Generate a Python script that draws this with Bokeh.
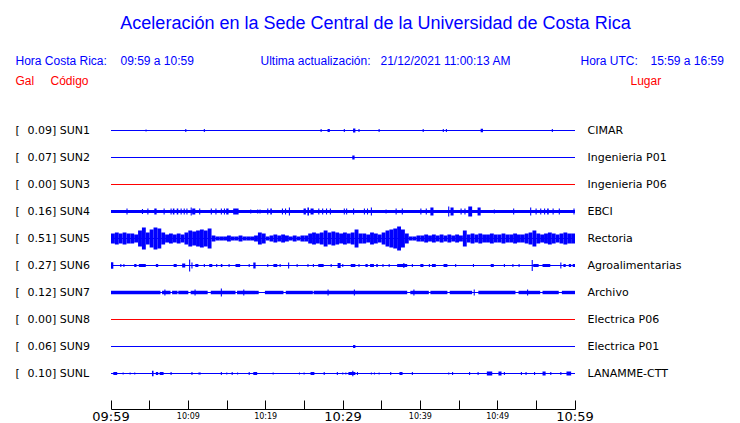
from bokeh.plotting import figure
from bokeh.models import Range1d, LinearAxis, FixedTicker, Label, LabelSet, ColumnDataSource
from bokeh.core.properties import value
from bokeh.embed import file_html
from bokeh.resources import INLINE

# ---------------- data ----------------
stations = ["SUN1", "SUN2", "SUN3", "SUN4", "SUN5", "SUN6", "SUN7", "SUN8", "SUN9", "SUNL"]
places = ["CIMAR", "Ingenieria P01", "Ingenieria P06", "EBCI", "Rectoria",
          "Agroalimentarias", "Archivo", "Electrica P06", "Electrica P01", "LANAMME-CTT"]
peak_gal = ["0.09", "0.07", "0.00", "0.16", "0.51", "0.27", "0.12", "0.00", "0.06", "0.10"]
online = [True, True, False, True, True, True, True, False, True, True]

tick_minutes = [0, 5, 10, 15, 20, 25, 30, 35, 40, 45, 50, 55, 60]
minor_time_labels = {10: "10:09", 20: "10:19", 40: "10:39", 50: "10:49"}
major_time_labels = {0: "09:59", 30: "10:29", 60: "10:59"}

# envelope bursts: (start minute, end minute, half amplitude)
sun1 = [(4.46, 4.6, 1), (9.6, 9.7, 1.5), (12.0, 12.1, 1.5), (27.1, 27.2, 1.5), (28.0, 28.3, 1.5),
        (30.1, 30.2, 1.5), (31.3, 31.6, 2), (32.0, 32.1, 1.5), (34.6, 34.7, 1.5), (40.3, 40.4, 1.5),
        (42.9, 43.0, 1.5), (43.3, 43.4, 1.5), (47.8, 48.1, 1.7), (57.0, 57.1, 1.5)]
sun2 = [(31.2, 31.5, 2)]
sun3 = []
sun4 = [(0, 60, 1.5),
        (2.0, 2.1, 3), (4.0, 4.1, 2.5), (4.7, 4.8, 3), (5.6, 5.9, 3), (6.8, 6.9, 3), (7.7, 7.8, 3),
        (8.0, 8.2, 3), (8.5, 8.7, 3), (9.0, 9.1, 3), (9.4, 9.5, 3), (9.75, 9.85, 3), (10.3, 10.4, 4),
        (10.5, 10.9, 3), (11.4, 11.5, 3), (12.9, 13.0, 3), (13.5, 13.6, 3), (14.2, 14.3, 3),
        (14.6, 14.7, 3), (14.9, 15.2, 3), (15.8, 16.5, 3), (18.0, 18.1, 2), (18.9, 19.0, 2),
        (19.2, 19.3, 2), (20.2, 20.3, 3), (20.6, 20.8, 3), (22.1, 22.2, 3), (22.5, 22.6, 3),
        (23.0, 23.1, 4), (24.9, 25.2, 3), (25.4, 25.6, 4), (25.8, 26.2, 3), (26.8, 26.9, 3),
        (27.3, 27.4, 3), (27.8, 27.9, 3), (28.3, 28.4, 3), (30.1, 30.2, 3), (30.4, 30.5, 3),
        (31.3, 31.4, 3), (32.7, 32.8, 3), (33.1, 33.2, 3), (33.6, 33.7, 4), (35.5, 35.6, 2),
        (36.8, 36.9, 3), (37.6, 37.7, 3), (40.0, 40.1, 3), (40.7, 40.8, 3), (41.3, 41.7, 4),
        (43.6, 43.7, 5), (43.9, 44.3, 4), (45.2, 45.3, 3), (45.7, 45.8, 3), (46.2, 46.7, 5),
        (47.4, 47.8, 4), (49.5, 49.6, 2), (52.0, 52.1, 3), (54.2, 54.3, 4), (54.9, 55.0, 3),
        (55.5, 55.6, 3), (56.0, 56.1, 3), (56.4, 56.6, 3), (57.1, 57.2, 3), (57.9, 58.0, 3),
        (59.8, 59.9, 3)]
# SUN5: half amplitude in 0.5-minute bins, 09:59 -> 10:59
sun5_env = [5, 6, 5, 6, 5, 5, 4, 8, 11, 6, 9, 11, 10, 6, 4, 5, 4, 5, 4, 6,
            8, 7, 8, 9, 8, 10, 3, 2, 2, 2, 3, 2, 2, 3, 2, 2, 2, 3, 6, 5,
            2, 3, 4, 3, 4, 3, 2, 3, 2, 3, 3, 5, 6, 5, 6, 8, 6, 7, 6, 5,
            6, 5, 6, 9, 5, 5, 4, 6, 5, 4, 6, 8, 9, 10, 12, 9, 5, 2, 2, 3,
            3, 4, 3, 4, 3, 4, 3, 4, 3, 4, 3, 8, 4, 5, 4, 5, 4, 4, 5, 4,
            4, 5, 4, 4, 5, 4, 4, 5, 6, 8, 5, 4, 5, 6, 5, 4, 5, 6, 5, 5]
sun6 = [(0.0, 0.3, 3.3), (1.2, 1.3, 1.5), (1.6, 1.7, 1.5), (3.0, 3.3, 1.5), (3.6, 4.5, 1.5),
        (5.8, 6.1, 1.5), (8.1, 8.5, 1.5), (9.2, 9.6, 2), (10.1, 10.2, 6), (10.4, 10.5, 3),
        (10.9, 11.3, 1.5), (12.0, 12.1, 1.5), (12.7, 13.1, 1.5), (13.6, 13.7, 1.5), (14.2, 14.4, 1.5),
        (15.2, 15.3, 1.5), (16.1, 16.7, 1.5), (17.8, 17.9, 1.5), (18.4, 18.7, 3), (20.2, 20.3, 1.5),
        (21.0, 21.5, 1.5), (21.8, 21.9, 1.5), (22.9, 23.0, 3), (24.0, 24.1, 1.5), (25.4, 25.5, 1.5),
        (26.1, 26.2, 1.5), (26.8, 27.5, 1.5), (28.4, 28.5, 1.5), (29.3, 29.7, 2.5), (29.9, 30.0, 1.5),
        (31.0, 31.6, 1.5), (32.0, 32.1, 1.5), (32.9, 33.2, 1.5), (33.5, 34.0, 1.5), (34.3, 34.5, 1.5),
        (35.1, 35.2, 1.5), (35.9, 36.0, 1.5), (37.0, 38.3, 1.5), (37.8, 37.9, 2.5), (38.9, 39.0, 1.5),
        (40.0, 40.4, 1.5), (41.1, 41.2, 1.5), (41.5, 42.0, 1.5), (43.0, 43.5, 1.5), (44.5, 44.6, 1.5),
        (46.8, 46.9, 1.5), (49.1, 49.5, 1.5), (50.8, 50.9, 1.5), (51.9, 52.0, 1.5), (52.7, 52.8, 1.5),
        (54.4, 54.5, 5.5), (54.6, 55.3, 1.5), (55.8, 56.8, 1.5), (58.1, 58.2, 3), (58.5, 58.8, 1.5),
        (59.2, 59.5, 1.5), (59.7, 60.0, 1.5)]
sun7 = [(0, 6.4, 1.7), (6.6, 7.7, 1.7), (7.9, 8.6, 1.7), (8.7, 10.0, 1.7), (10.3, 12.5, 1.7),
        (12.9, 16.1, 1.7), (16.3, 19.1, 1.7), (19.9, 22.3, 1.7), (22.6, 26.1, 1.7), (26.2, 38.3, 1.7),
        (38.7, 41.1, 1.7), (41.3, 43.5, 1.7), (43.8, 46.7, 1.7), (47.5, 52.3, 1.7), (52.7, 55.5, 1.7),
        (55.8, 57.9, 1.7), (58.3, 60, 1.7),
        (6.9, 7.0, 3), (10.8, 10.9, 3), (14.2, 14.3, 4), (17.1, 17.2, 3), (28.0, 28.1, 3),
        (31.4, 31.5, 3), (39.1, 39.2, 3), (46.9, 47.0, 3), (53.8, 53.9, 3)]
sun8 = []
sun9 = [(31.3, 31.6, 1.5)]
sunl = [(0.3, 0.8, 1.5), (1.5, 1.6, 1), (2.4, 2.5, 1), (3.0, 3.1, 1), (5.3, 5.5, 2.7), (5.8, 6.1, 1.5),
        (6.3, 6.8, 1.5), (7.7, 7.8, 1.5), (10.4, 10.5, 1.5), (11.3, 11.6, 1), (14.2, 14.3, 1.5),
        (14.9, 15.0, 1), (15.6, 15.7, 1.5), (16.3, 16.4, 1), (17.8, 17.9, 1.5), (18.4, 18.9, 1.5),
        (20.9, 21.0, 1), (24.3, 24.4, 1), (24.9, 25.0, 1), (25.8, 26.3, 1.5), (27.5, 27.6, 1.5),
        (29.2, 29.3, 1.5), (29.9, 30.0, 1), (30.3, 30.4, 1), (30.7, 31.6, 1.5), (31.2, 31.3, 2.7),
        (31.8, 31.9, 1.5), (33.6, 33.7, 1), (34.0, 34.1, 1), (34.6, 34.7, 1), (36.1, 36.2, 1.5),
        (37.3, 37.7, 1.5), (38.9, 39.0, 1.5), (43.6, 43.7, 1), (44.1, 44.2, 1.5), (46.3, 46.4, 1.5),
        (47.4, 47.5, 1.5), (48.6, 49.3, 2), (50.1, 50.5, 2), (50.8, 50.9, 1.5), (53.0, 53.1, 1.5),
        (53.6, 53.7, 1.5), (54.7, 54.8, 1.5), (55.8, 56.2, 2), (56.8, 56.9, 1.5), (58.1, 58.2, 1.5),
        (58.9, 59.5, 2)]

sun5 = [(k * 0.5, k * 0.5 + 0.5, a) for k, a in enumerate(sun5_env)]
bursts = [sun1, sun2, sun3, sun4, sun5, sun6, sun7, sun8, sun9, sunl]

# ---------------- styling / layout ----------------
BLUE = "#0000FF"
RED = "#FF0000"
HEAD_FONT = "Liberation Sans"
LAB_FONT = "DejaVu Sans"
ROW_PX = 27.0          # pixels between rows
MIN_W = 0.14           # minimal burst width (minutes)

PAGE_W, PAGE_H = 740, 423
AXIS_PX = 409                        # pixel row of the time axis line
X0_PX, X60_PX = 110.5, 574.5         # pixel of 09:59 and 10:59
ppm = (X60_PX - X0_PX) / 60.0
ROW0_PX = 130.0                      # pixel of first row

x_range = Range1d(-X0_PX / ppm, (PAGE_W - X0_PX) / ppm)
y_range = Range1d((PAGE_H - ROW0_PX) / ROW_PX, -ROW0_PX / ROW_PX)   # flipped

p = figure(frame_width=PAGE_W, frame_height=PAGE_H, x_range=x_range, y_range=y_range,
           output_backend="svg", toolbar_location=None, tools="",
           min_border_left=0, min_border_right=0, min_border_top=0, min_border_bottom=0,
           x_axis_type=None, y_axis_type=None, outline_line_color=None,
           background_fill_color="white", border_fill_color="white")
p.xgrid.visible = False
p.ygrid.visible = False

colors = [BLUE if on else RED for on in online]

# baselines
p.segment(x0=[0] * len(stations), x1=[60] * len(stations),
          y0=list(range(len(stations))), y1=list(range(len(stations))),
          line_color=colors, line_width=1)

# bursts
L, R, T, B, C = [], [], [], [], []
for i, ev in enumerate(bursts):
    for t0, t1, a in ev:
        L.append(t0)
        R.append(max(t1, t0 + MIN_W))
        T.append(i - a / ROW_PX)
        B.append(i + a / ROW_PX)
        C.append(colors[i])
p.quad(left=L, right=R, top=T, bottom=B, fill_color=C, line_color=None)

# time axis (fixed inside the frame)
ax = LinearAxis(ticker=FixedTicker(ticks=tick_minutes), bounds=(0, 60),
                fixed_location=(AXIS_PX - ROW0_PX) / ROW_PX)
ax.major_label_overrides = {m: minor_time_labels.get(m, "") for m in tick_minutes}
ax.major_tick_in = 9
ax.major_tick_out = 0
ax.minor_tick_line_color = None
ax.axis_line_color = "black"
ax.major_tick_line_color = "black"
ax.major_label_text_font = LAB_FONT
ax.major_label_text_font_size = "8px"
ax.major_label_text_color = "black"
ax.major_label_standoff = 2
p.add_layout(ax, "below")

for m, txt in major_time_labels.items():
    p.add_layout(Label(x=m, y=PAGE_H - 416, x_units="data", y_units="screen", text=txt,
                       text_align="center", text_baseline="middle",
                       text_font=LAB_FONT, text_font_size="13px", text_color="black"))


def sc(px, py):
    """page pixel -> frame screen coordinates"""
    return px, PAGE_H - py


def head(px, py, txt, color, size="12px", align="left"):
    sx, sy = sc(px, py)
    p.add_layout(Label(x=sx, y=sy, x_units="screen", y_units="screen", text=txt,
                       text_align=align, text_baseline="middle", text_font=HEAD_FONT,
                       text_font_size=size, text_color=color))


head(375, 22, "Aceleración en la Sede Central de la Universidad de Costa Rica", BLUE, "18px", "center")
head(15, 60, "Hora Costa Rica:", BLUE)
head(120, 60, "09:59 a 10:59", BLUE)
head(260, 60, "Ultima actualización:", BLUE)
head(380, 60, "21/12/2021 11:00:13 AM", BLUE)
head(580, 60, "Hora UTC:", BLUE)
head(650, 60, "15:59 a 16:59", BLUE)
head(15, 80, "Gal", RED)
head(50, 80, "Código", RED)
head(630, 80, "Lugar", RED)

rows = list(range(len(stations)))
src = ColumnDataSource(dict(
    row=rows,
    br=["["] * len(stations),
    left=[f"{g}] {s}" for g, s in zip(peak_gal, stations)],
    place=places,
))
for col, px in (("br", 15), ("left", 27), ("place", 587)):
    p.add_layout(LabelSet(x=px, y="row", x_units="screen", y_units="data", text=col,
                          source=src, text_align="left", text_baseline="middle",
                          text_font=value(LAB_FONT), text_font_size=value("11px"),
                          text_color="black"))

open("out.html", "w").write(file_html(p, INLINE))
